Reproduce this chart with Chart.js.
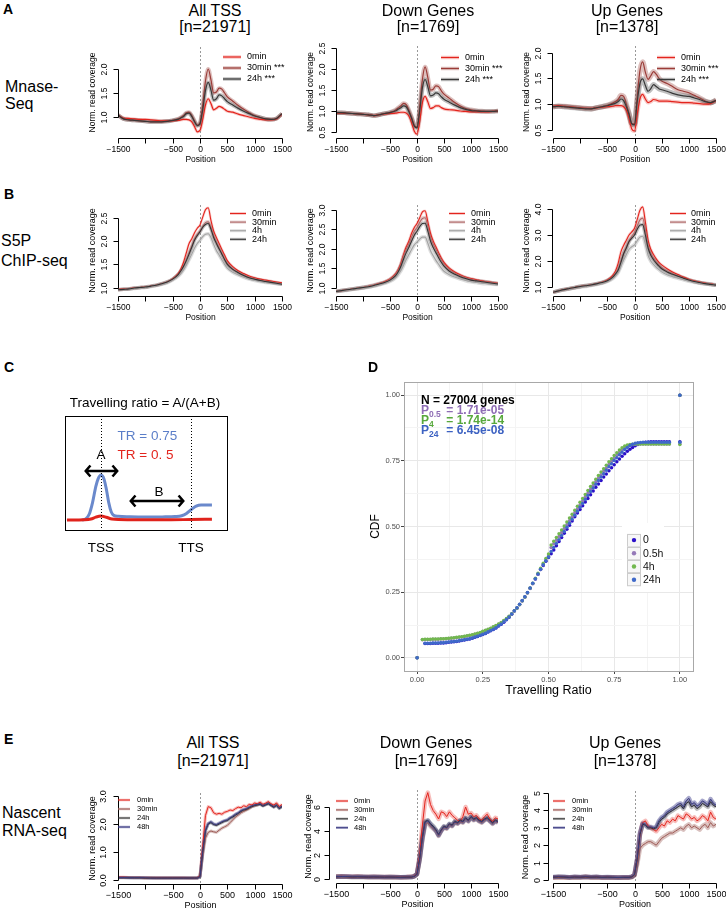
<!DOCTYPE html>
<html><head><meta charset="utf-8">
<script src="https://cdn.jsdelivr.net/npm/chart.js@4.4.1/dist/chart.umd.min.js"></script>
<style>
html,body{margin:0;padding:0;background:#fff;}
#fig{position:relative;width:726px;height:911px;overflow:hidden;font-family:"Liberation Sans",Arial,Helvetica,sans-serif;color:#000;}
.t{position:absolute;white-space:nowrap;line-height:1;}
canvas{position:absolute;}
sub{font-size:8.5px;vertical-align:-3px;line-height:0;}
</style></head><body><div id="fig"></div>
<script>
// ================= DATA =================
const posAB = [-1500,-1400,-1300,-1200,-1100,-1000,-900,-800,-700,-600,-500,-400,-350,-300,-250,-200,-150,-100,-50,0,50,100,150,200,250,300,350,400,450,500,600,700,800,900,1000,1100,1200,1300,1400,1500];
const posE = [-1500,-1400,-1300,-1200,-1100,-1000,-900,-800,-700,-600,-500,-400,-300,-200,-100,-50,0,50,100,150,200,250,300,350,400,450,500,550,600,650,700,750,800,850,900,950,1000,1050,1100,1150,1200,1250,1300,1350,1400,1450,1500];
const xTickVals = [-1500,-1000,-500,0,500,1000,1500];
const xTickLabels = ['\u22121500','','\u2212500','0','500','1000','1500'];
const legendA = ['0min','30min ***','24h ***'];
const legendB = ['0min','30min','4h','24h'];
const legendE = ['0min','30min','24h','48h'];

// A: MNase-seq
const a1_0min  = [1.04,0.98,0.97,0.96,0.95,0.95,0.94,0.93,0.92,0.92,0.92,0.93,0.94,0.95,0.95,0.94,0.90,0.80,0.69,0.72,0.95,1.25,1.38,1.28,1.15,1.18,1.22,1.20,1.16,1.12,1.10,1.06,1.03,1.00,0.97,0.95,0.94,0.94,0.96,1.06];
const a1_30min = [1.04,0.96,0.94,0.93,0.92,0.91,0.90,0.90,0.90,0.91,0.93,0.96,0.99,1.03,1.09,1.10,1.03,0.92,0.83,0.88,1.25,1.75,2.00,1.78,1.50,1.52,1.60,1.58,1.50,1.42,1.33,1.24,1.16,1.09,1.03,0.99,0.96,0.95,0.97,1.07];
const a1_24h   = [1.04,0.96,0.94,0.93,0.92,0.91,0.90,0.90,0.90,0.91,0.93,0.95,0.98,1.01,1.07,1.08,1.01,0.90,0.82,0.86,1.15,1.55,1.72,1.56,1.35,1.38,1.46,1.44,1.38,1.32,1.25,1.18,1.12,1.07,1.02,0.99,0.96,0.95,0.97,1.07];
const a2_0min  = [0.95,0.95,0.94,0.94,0.93,0.92,0.91,0.89,0.91,0.93,0.94,0.95,0.96,0.97,0.97,0.95,0.88,0.72,0.52,0.45,0.75,1.20,1.35,1.22,1.06,1.08,1.12,1.12,1.08,1.05,1.03,1.02,1.00,0.99,0.98,0.98,0.98,0.98,0.99,1.00];
const a2_30min = [0.96,0.96,0.95,0.94,0.93,0.92,0.91,0.89,0.91,0.94,0.97,1.02,1.07,1.12,1.18,1.15,1.02,0.85,0.66,0.62,1.10,1.75,2.05,1.80,1.50,1.52,1.60,1.58,1.48,1.40,1.30,1.20,1.12,1.06,1.03,1.01,1.00,0.99,0.99,1.00];
const a2_24h   = [0.96,0.96,0.95,0.94,0.93,0.92,0.91,0.89,0.91,0.94,0.96,1.00,1.04,1.08,1.12,1.10,0.98,0.82,0.64,0.60,1.00,1.55,1.75,1.58,1.36,1.38,1.43,1.41,1.34,1.28,1.21,1.14,1.08,1.04,1.01,1.00,0.99,0.99,0.99,1.00];
const a3_0min  = [0.96,0.97,0.96,0.95,0.94,0.93,0.92,0.92,0.93,0.94,0.95,0.96,0.97,0.97,0.97,0.95,0.88,0.72,0.52,0.48,0.80,1.10,1.19,1.10,1.03,1.05,1.09,1.08,1.06,1.06,1.06,1.05,1.04,1.03,1.03,1.02,1.01,1.00,1.01,1.07];
const a3_30min = [0.95,0.96,0.96,0.95,0.94,0.93,0.92,0.91,0.93,0.95,0.98,1.02,1.05,1.09,1.17,1.15,1.00,0.82,0.62,0.62,1.15,1.65,1.82,1.62,1.48,1.55,1.63,1.58,1.50,1.45,1.40,1.34,1.28,1.25,1.22,1.17,1.12,1.06,1.03,1.08];
const a3_24h   = [0.95,0.96,0.95,0.94,0.93,0.92,0.91,0.91,0.93,0.95,0.97,1.00,1.02,1.05,1.10,1.07,0.95,0.80,0.62,0.60,1.05,1.40,1.49,1.36,1.25,1.30,1.38,1.34,1.30,1.28,1.25,1.21,1.18,1.16,1.15,1.12,1.09,1.05,1.03,1.07];

// B: S5P ChIP-seq
const b1_0min  = [0.96,0.97,0.98,0.99,1.00,1.01,1.03,1.05,1.08,1.12,1.19,1.30,1.40,1.55,1.75,1.95,2.05,2.18,2.28,2.35,2.52,2.68,2.72,2.45,2.22,2.08,1.95,1.82,1.70,1.58,1.45,1.36,1.30,1.25,1.21,1.18,1.16,1.14,1.12,1.10];
const b1_30min = [0.95,0.96,0.97,0.99,1.00,1.01,1.03,1.05,1.08,1.12,1.18,1.28,1.36,1.47,1.60,1.75,1.90,2.05,2.15,2.22,2.32,2.40,2.42,2.30,2.12,1.98,1.86,1.74,1.62,1.52,1.40,1.33,1.27,1.22,1.19,1.16,1.14,1.12,1.10,1.08];
const b1_4h    = [0.95,0.96,0.97,0.98,0.99,1.00,1.02,1.04,1.07,1.10,1.16,1.24,1.30,1.38,1.48,1.60,1.72,1.85,1.95,2.02,2.10,2.15,2.16,2.08,1.93,1.80,1.70,1.60,1.50,1.42,1.33,1.27,1.22,1.18,1.15,1.13,1.11,1.10,1.08,1.07];
const b1_24h   = [0.95,0.96,0.97,0.99,1.00,1.01,1.03,1.05,1.08,1.12,1.18,1.28,1.36,1.46,1.58,1.72,1.87,2.02,2.12,2.20,2.30,2.36,2.38,2.26,2.08,1.95,1.83,1.72,1.60,1.50,1.39,1.32,1.26,1.21,1.18,1.15,1.13,1.11,1.09,1.07];
const b2_0min  = [0.90,0.92,0.94,0.96,0.98,1.00,1.03,1.06,1.10,1.15,1.22,1.35,1.46,1.62,1.85,2.05,2.20,2.40,2.55,2.65,2.80,2.95,2.98,2.70,2.40,2.20,2.05,1.90,1.76,1.65,1.50,1.40,1.33,1.27,1.23,1.20,1.17,1.15,1.13,1.11];
const b2_30min = [0.90,0.92,0.94,0.96,0.98,1.00,1.03,1.06,1.10,1.14,1.21,1.33,1.43,1.58,1.80,1.98,2.12,2.30,2.45,2.55,2.68,2.78,2.80,2.58,2.30,2.12,1.98,1.84,1.71,1.60,1.46,1.37,1.30,1.25,1.21,1.18,1.16,1.14,1.12,1.10];
const b2_4h    = [0.90,0.92,0.93,0.95,0.97,0.99,1.01,1.04,1.07,1.11,1.16,1.25,1.33,1.43,1.57,1.72,1.85,1.98,2.10,2.17,2.25,2.30,2.30,2.15,1.95,1.82,1.70,1.60,1.50,1.42,1.33,1.27,1.22,1.18,1.15,1.13,1.11,1.10,1.09,1.08];
const b2_24h   = [0.90,0.92,0.94,0.96,0.98,1.00,1.02,1.05,1.09,1.13,1.19,1.30,1.40,1.54,1.73,1.90,2.04,2.20,2.35,2.45,2.57,2.65,2.66,2.46,2.20,2.03,1.90,1.77,1.65,1.55,1.42,1.34,1.28,1.23,1.19,1.17,1.15,1.13,1.11,1.09];
const b3_0min  = [0.80,0.85,0.90,0.94,0.98,1.02,1.05,1.08,1.12,1.18,1.27,1.45,1.62,1.92,2.35,2.60,2.80,3.00,3.12,3.26,3.60,3.95,4.08,3.50,2.80,2.45,2.25,2.08,1.95,1.85,1.70,1.58,1.48,1.38,1.30,1.24,1.19,1.15,1.12,1.08];
const b3_30min = [0.80,0.85,0.90,0.94,0.98,1.02,1.05,1.08,1.12,1.17,1.25,1.40,1.53,1.70,2.00,2.30,2.55,2.78,2.95,3.10,3.35,3.58,3.65,3.20,2.60,2.30,2.12,1.97,1.85,1.75,1.62,1.52,1.43,1.35,1.28,1.22,1.17,1.14,1.11,1.08];
const b3_4h    = [0.80,0.85,0.89,0.93,0.97,1.00,1.03,1.06,1.10,1.15,1.22,1.33,1.43,1.57,1.80,2.04,2.25,2.45,2.55,2.62,2.78,2.92,2.95,2.65,2.22,2.00,1.87,1.76,1.67,1.58,1.47,1.40,1.34,1.28,1.23,1.19,1.15,1.12,1.10,1.07];
const b3_24h   = [0.80,0.85,0.90,0.94,0.98,1.02,1.05,1.08,1.12,1.17,1.24,1.38,1.50,1.65,1.95,2.28,2.50,2.75,2.88,3.00,3.22,3.38,3.40,3.00,2.50,2.22,2.05,1.92,1.80,1.70,1.58,1.49,1.41,1.34,1.27,1.21,1.17,1.13,1.10,1.07];

// E: Nascent RNA-seq
const e1_0min  = [0.10,0.10,0.09,0.09,0.09,0.08,0.08,0.08,0.08,0.08,0.08,0.08,0.08,0.07,0.07,0.08,0.15,1.20,2.30,2.62,2.58,2.40,2.35,2.38,2.35,2.42,2.45,2.50,2.48,2.55,2.60,2.58,2.65,2.62,2.70,2.68,2.75,2.72,2.78,2.70,2.74,2.80,2.72,2.68,2.75,2.62,2.70];
const e1_30min = [0.09,0.09,0.09,0.08,0.08,0.08,0.08,0.07,0.07,0.07,0.07,0.07,0.07,0.07,0.07,0.07,0.12,0.90,1.50,1.70,1.75,1.72,1.70,1.78,1.85,1.90,1.95,2.05,2.15,2.25,2.32,2.40,2.45,2.50,2.55,2.62,2.65,2.68,2.72,2.66,2.70,2.75,2.68,2.62,2.70,2.58,2.65];
const e1_24h   = [0.08,0.08,0.08,0.08,0.08,0.07,0.07,0.07,0.07,0.07,0.07,0.07,0.07,0.07,0.07,0.07,0.12,1.00,1.75,2.00,2.05,1.98,1.95,2.00,2.05,2.10,2.12,2.20,2.25,2.32,2.38,2.45,2.50,2.52,2.58,2.62,2.66,2.68,2.70,2.64,2.68,2.72,2.66,2.60,2.66,2.55,2.62];
const e1_48h   = [0.09,0.09,0.08,0.08,0.08,0.08,0.07,0.07,0.07,0.07,0.07,0.07,0.07,0.07,0.07,0.07,0.12,1.02,1.78,2.02,2.08,2.00,1.98,2.03,2.08,2.12,2.15,2.22,2.28,2.35,2.40,2.48,2.52,2.55,2.60,2.65,2.68,2.70,2.72,2.66,2.70,2.74,2.68,2.62,2.68,2.57,2.64];
const e2_0min  = [0.20,0.22,0.20,0.18,0.20,0.18,0.17,0.18,0.17,0.16,0.17,0.16,0.15,0.16,0.18,0.25,0.45,2.00,4.50,6.50,7.20,6.20,5.70,5.40,5.00,5.60,5.50,5.20,5.60,5.30,5.10,4.90,4.80,5.20,6.00,5.40,5.50,5.20,5.30,5.00,4.90,5.20,5.40,5.00,4.80,5.10,5.00];
const e2_30min = [0.18,0.20,0.19,0.17,0.18,0.17,0.16,0.17,0.16,0.15,0.16,0.15,0.14,0.15,0.16,0.22,0.40,1.60,3.30,4.50,4.70,4.40,4.20,4.00,3.60,4.00,4.30,4.20,4.50,4.40,4.70,4.60,4.80,4.70,5.00,4.80,5.10,4.90,5.00,4.80,4.70,4.90,5.00,4.80,4.60,4.80,4.70];
const e2_24h   = [0.18,0.20,0.19,0.17,0.18,0.17,0.16,0.17,0.16,0.15,0.16,0.15,0.14,0.15,0.16,0.22,0.40,1.70,3.50,4.80,4.90,4.60,4.40,4.10,3.70,4.10,4.40,4.30,4.60,4.50,4.80,4.70,4.90,4.80,5.10,4.90,5.20,5.00,5.10,4.90,4.80,5.00,5.10,4.90,4.70,4.90,4.80];
const e2_48h   = [0.19,0.21,0.20,0.18,0.19,0.18,0.17,0.18,0.17,0.16,0.17,0.16,0.15,0.16,0.17,0.23,0.42,1.70,3.40,4.70,4.85,4.55,4.30,4.05,3.65,4.05,4.35,4.25,4.55,4.45,4.75,4.65,4.85,4.75,5.05,4.85,5.15,4.95,5.05,4.85,4.75,4.95,5.05,4.85,4.65,4.85,4.75];
const e3_0min  = [0.15,0.17,0.16,0.15,0.17,0.16,0.18,0.16,0.17,0.15,0.16,0.15,0.14,0.15,0.15,0.18,0.30,1.20,2.60,3.30,3.40,3.10,3.00,2.90,2.80,3.00,3.20,3.10,3.40,3.30,3.50,3.40,3.70,3.60,3.50,3.80,3.70,3.50,3.60,3.40,3.50,3.70,3.60,3.40,3.90,3.60,3.50];
const e3_30min = [0.15,0.16,0.15,0.14,0.16,0.15,0.17,0.15,0.16,0.14,0.15,0.14,0.13,0.14,0.14,0.16,0.25,0.90,1.80,2.00,2.10,2.20,2.20,2.10,2.00,2.20,2.40,2.50,2.60,2.70,2.70,2.80,2.90,3.00,2.90,3.10,3.20,3.00,3.10,3.00,2.90,3.10,3.20,3.00,3.30,3.10,3.20];
const e3_24h   = [0.16,0.18,0.17,0.15,0.17,0.16,0.18,0.16,0.17,0.15,0.16,0.15,0.14,0.15,0.15,0.18,0.30,1.20,2.60,3.20,3.15,3.00,3.00,2.95,3.00,3.30,3.50,3.60,3.80,3.90,4.00,4.10,4.20,4.30,4.10,4.40,4.50,4.20,4.30,4.10,4.20,4.40,4.30,4.20,4.50,4.30,4.20];
const e3_48h   = [0.17,0.19,0.18,0.16,0.18,0.17,0.19,0.17,0.18,0.16,0.17,0.16,0.15,0.16,0.16,0.19,0.32,1.25,2.70,3.25,3.20,3.05,3.05,3.00,3.05,3.40,3.60,3.70,3.90,4.00,4.10,4.20,4.35,4.40,4.20,4.55,4.70,4.35,4.45,4.25,4.35,4.55,4.45,4.30,4.65,4.40,4.30];

// y tick values / labels
const a1YTicks = [1.0,1.5,2.0], a1YLabels = ['1.0','1.5','2.0'];
const a2YTicks = [0.5,1.0,1.5,2.0,2.5], a2YLabels = ['0.5','1.0','1.5','2.0','2.5'];
const a3YTicks = [0.5,1.0,1.5,2.0], a3YLabels = ['0.5','1.0','1.5','2.0'];
const b1YTicks = [1.0,1.5,2.0,2.5], b1YLabels = ['1.0','1.5','2.0','2.5'];
const b2YTicks = [1.0,1.5,2.0,2.5,3.0], b2YLabels = ['1.0','1.5','2.0','2.5','3.0'];
const b3YTicks = [1,2,3,4], b3YLabels = ['1.0','2.0','3.0','4.0'];
const e1YTicks = [0,1,2,3], e1YLabels = ['0.0','1.0','2.0','3.0'];
const e2YTicks = [0,2,4,6], e2YLabels = ['0','2','4','6'];
const e3YTicks = [0,1,2,3,4,5], e3YLabels = ['0','1','2','3','4','5'];

// D: CDF of travelling ratio
const dX = [0.02,0.03,0.04,0.05,0.06,0.07,0.08,0.09,0.10,0.11,0.12,0.13,0.14,0.15,0.16,0.17,0.18,0.19,0.20,0.21,0.22,0.23,0.24,0.25,0.26,0.27,0.28,0.29,0.30,0.31,0.32,0.33,0.34,0.35,0.36,0.37,0.38,0.39,0.40,0.41,0.42,0.43,0.44,0.45,0.46,0.47,0.48,0.49,0.50,0.51,0.52,0.53,0.54,0.55,0.56,0.57,0.58,0.59,0.60,0.61,0.62,0.63,0.64,0.65,0.66,0.67,0.68,0.69,0.70,0.71,0.72,0.73,0.74,0.75,0.76,0.77,0.78,0.79,0.80,0.81,0.82,0.83,0.84,0.85,0.86,0.87,0.88,0.89,0.90,0.91,0.92,0.93,0.94,0.95,0.96];
const d0 = [null,0.055,0.055,0.055,0.056,0.056,0.056,0.057,
0.057,0.058,0.059,0.060,0.061,0.062,0.064,0.066,0.068,0.070,
0.072,0.075,0.078,0.081,0.085,0.089,0.093,0.098,0.103,0.108,
0.114,0.121,0.128,0.136,0.145,0.155,0.166,0.178,0.190,0.203,
0.217,0.232,0.248,0.265,0.283,0.300,0.318,0.336,0.352,0.368,
0.382,0.396,0.411,0.427,0.443,0.458,0.474,0.490,0.505,0.521,
0.537,0.551,0.565,0.579,0.593,0.607,0.621,0.635,0.649,0.662,
0.675,0.688,0.700,0.712,0.724,0.735,0.746,0.757,0.767,0.777,
0.786,0.794,0.801,0.807,0.812,0.816,0.819,0.821,0.822,0.823,
0.823,0.823,0.823,0.823,0.823,0.823,0.823];
const d05 = [0.069,0.070,0.070,0.070,0.071,0.071,0.071,0.072,
0.072,0.073,0.074,0.075,0.076,0.077,0.078,0.079,0.081,0.083,
0.085,0.087,0.090,0.093,0.096,0.100,0.104,0.108,0.112,0.117,
0.122,0.128,0.134,0.141,0.149,0.157,0.167,0.178,0.189,0.202,
0.216,0.231,0.247,0.264,0.282,0.300,0.318,0.336,0.354,0.371,
0.387,0.420,0.434,0.448,0.462,0.477,0.492,0.507,0.522,0.537,
0.552,0.567,0.582,0.597,0.612,0.627,0.642,0.656,0.670,0.684,
0.697,0.710,0.723,0.736,0.748,0.760,0.771,0.782,0.792,0.800,
0.806,0.810,0.812,0.813,0.814,0.814,0.814,0.814,0.814,0.814,
0.814,0.814,0.814,0.814,0.814,0.814,0.814];
const d4 = [0.070,0.071,0.071,0.071,0.072,0.072,0.072,0.073,
0.073,0.074,0.075,0.076,0.077,0.078,0.079,0.080,0.082,0.084,
0.086,0.088,0.091,0.094,0.097,0.101,0.105,0.109,0.113,0.118,
0.123,0.129,0.135,0.142,0.150,0.158,0.168,0.179,0.190,0.203,
0.217,0.232,0.248,0.266,0.284,0.303,0.322,0.341,0.360,0.378,
0.395,0.430,0.444,0.458,0.472,0.487,0.502,0.517,0.532,0.547,
0.562,0.577,0.592,0.607,0.622,0.637,0.652,0.666,0.680,0.694,
0.707,0.720,0.733,0.746,0.758,0.770,0.781,0.791,0.800,0.806,
0.810,0.812,0.813,0.814,0.814,0.814,0.814,0.814,0.814,0.814,
0.814,0.814,0.814,0.814,0.814,0.814,0.814];
const d24 = [null,0.056,0.056,0.056,0.057,0.057,0.057,0.058,
0.058,0.059,0.060,0.061,0.062,0.063,0.065,0.067,0.069,0.071,
0.073,0.076,0.079,0.082,0.086,0.090,0.094,0.099,0.104,0.109,
0.115,0.122,0.129,0.137,0.146,0.156,0.167,0.179,0.191,0.204,
0.218,0.233,0.249,0.266,0.284,0.301,0.319,0.337,0.354,0.370,
0.384,0.405,0.420,0.435,0.450,0.466,0.481,0.497,0.512,0.528,
0.543,0.558,0.573,0.588,0.603,0.618,0.633,0.647,0.661,0.675,
0.688,0.701,0.714,0.727,0.739,0.751,0.762,0.773,0.783,0.793,
0.801,0.808,0.813,0.817,0.819,0.820,0.821,0.821,0.821,0.821,
0.821,0.821,0.821,0.821,0.821,0.821,0.821];
const dTailX = [0, 1, 1];
const d0Tail = [0, 0.823, 1];
const d05Tail = [0, 0.814, 1];
const d4Tail = [0, 0.812, 1];
const d24Tail = [0, 0.821, 1];
const dTicks = [0,0.125,0.25,0.375,0.5,0.625,0.75,0.875,1];
const dTickLabels = ['0.00','','0.25','','0.50','','0.75','','1.00'];
const dLegend = ['0','0.5h','4h','24h'];

// C: schematic profiles
const cBlueX = [10.5,13,15,17,19,20.5,22.2,24,25.5,27,28.5,30,33,40,50,60,68,72,75,78,81,84,90.7];
const cBlueY = [8.8,10,14,24,38,45,48.2,45,36,24,16,13,12,11.6,11.4,11.5,11.8,12.5,14.5,18,21,22,22];
const cRedX = [1.2,12,16,19,22.2,25.5,29,40,60,77.8,90.7];
const cRedY = [8.8,9.0,9.6,11.3,12.3,11.2,9.6,9.0,8.9,9.2,9.5];
const cMarks = [22.2, 77.8];

// ================= DRAWING =================
const FONT = '"Liberation Sans", Arial, Helvetica, sans-serif';
Chart.defaults.font.family = FONT;
const fig = document.getElementById('fig');

function txt(html, x, base, size, o) {
  o = o || {};
  const d = document.createElement('div');
  d.className = 't';
  d.innerHTML = html;
  d.style.fontSize = size + 'px';
  d.style.top = (base - 0.8465 * size) + 'px';
  d.style.left = x + 'px';
  if (o.center) d.style.transform = 'translateX(-50%)';
  if (o.bold) d.style.fontWeight = 'bold';
  if (o.color) d.style.color = o.color;
  fig.appendChild(d);
}
function mkCanvas(l, t, w, h) {
  const c = document.createElement('canvas');
  c.width = w; c.height = h;
  c.style.left = l + 'px'; c.style.top = t + 'px';
  c.style.width = w + 'px'; c.style.height = h + 'px';
  fig.appendChild(c);
  return c;
}
function rot(ctx, s, x, y) {
  ctx.save(); ctx.translate(x, y); ctx.rotate(-Math.PI / 2);
  ctx.textAlign = 'center'; ctx.textBaseline = 'middle';
  ctx.fillText(s, 0, 0); ctx.restore();
}

const stA = [
  {color:'#e3241d', band:'rgba(227,36,29,0.25)', lw:1.2, bw:3},
  {color:'#9b3c38', band:'rgba(170,95,90,0.4)', lw:1.2, bw:4},
  {color:'#383838', band:'rgba(95,95,95,0.4)', lw:1.2, bw:4}
];
const stB = [
  {color:'#e3241d', band:'rgba(227,36,29,0.2)', lw:1.1, bw:2.5},
  {color:'#b06a6a', band:'rgba(190,140,140,0.4)', lw:1.1, bw:3.5},
  {color:'#a3a3a3', band:'rgba(180,180,180,0.45)', lw:1.1, bw:3.5},
  {color:'#333333', band:'rgba(95,95,95,0.35)', lw:1.1, bw:3.5}
];
const stE = [
  {color:'#e3241d', band:'rgba(227,36,29,0.3)', lw:1, bw:5},
  {color:'#9e5a55', band:'rgba(160,100,95,0.4)', lw:1, bw:5},
  {color:'#2e2e2e', band:'rgba(70,70,70,0.35)', lw:1, bw:5},
  {color:'#3b3b80', band:'rgba(60,60,140,0.45)', lw:1, bw:5}
];

function rAxis(cfg) {
  return {
    id: 'rAxis',
    beforeDatasetsDraw(chart) {
      const {ctx, chartArea: ca, scales: {x}} = chart;
      const px = Math.round(x.getPixelForValue(0)) + 0.5;
      ctx.save();
      ctx.strokeStyle = '#999'; ctx.lineWidth = 1; ctx.setLineDash([2, 2]);
      ctx.beginPath(); ctx.moveTo(px, ca.top); ctx.lineTo(px, ca.bottom); ctx.stroke();
      ctx.restore();
    },
    afterDraw(chart) {
      const {ctx, chartArea: ca, scales: {x, y}} = chart;
      ctx.save();
      ctx.strokeStyle = '#000'; ctx.fillStyle = '#000'; ctx.lineWidth = 1;
      const xb = Math.round(ca.bottom) + 0.5;
      const xs = xTickVals.map(v => Math.round(x.getPixelForValue(v)) + 0.5);
      const yl = Math.round(ca.left - cfg.yOff) + 0.5;
      const ys = cfg.yTicks.map(v => Math.round(y.getPixelForValue(v)) + 0.5);
      ctx.beginPath();
      ctx.moveTo(xs[0], xb); ctx.lineTo(xs[xs.length - 1], xb);
      xs.forEach(p => { ctx.moveTo(p, xb); ctx.lineTo(p, xb + 5); });
      ctx.moveTo(yl, ys[0]); ctx.lineTo(yl, ys[ys.length - 1]);
      ys.forEach(p => { ctx.moveTo(yl, p); ctx.lineTo(yl - 5, p); });
      ctx.stroke();
      ctx.font = cfg.font + 'px ' + FONT;
      ctx.textAlign = 'center'; ctx.textBaseline = 'middle';
      xTickLabels.forEach((s, i) => { if (s) ctx.fillText(s, xs[i], xb + 11); });
      ctx.fillText('Position', (xs[0] + xs[xs.length - 1]) / 2, xb + 21.5);
      cfg.yLabels.forEach((s, i) => rot(ctx, s, yl - cfg.yLabGap, ys[i]));
      ctx.font = cfg.titleFont + 'px ' + FONT;
      rot(ctx, 'Norm. read coverage', yl - cfg.yTitleGap, (ca.top + ca.bottom) / 2);
      // legend
      const L = cfg.legend, ox = chart.canvas.offsetLeft, oy = chart.canvas.offsetTop;
      ctx.font = L.font + 'px ' + FONT; ctx.textAlign = 'left'; ctx.textBaseline = 'middle';
      L.labels.forEach((lab, i) => {
        const st = L.styles[i];
        const yy = L.y0 + i * L.dy - oy, x0 = L.x - ox;
        ctx.lineCap = 'butt';
        ctx.strokeStyle = st.band; ctx.lineWidth = L.bw;
        ctx.beginPath(); ctx.moveTo(x0, yy); ctx.lineTo(x0 + L.len, yy); ctx.stroke();
        ctx.strokeStyle = st.color; ctx.lineWidth = st.lw;
        ctx.beginPath(); ctx.moveTo(x0, yy); ctx.lineTo(x0 + L.len, yy); ctx.stroke();
        ctx.fillStyle = '#000';
        ctx.fillText(lab, x0 + L.len + L.gap, yy);
      });
      ctx.restore();
    }
  };
}

function rChart(rect, g, pos, seriesVals, styles, cfg, smooth, bwScale) {
  const c = mkCanvas(rect.l, rect.t, rect.w, rect.h);
  const per = (g.yb[0] - g.ya[0]) / (g.ya[1] - g.yb[1]);
  const ymin = g.ya[0] - (g.bottom - g.ya[1]) * per;
  const ymax = g.ya[0] + (g.ya[1] - g.top) * per;
  const n = seriesVals.length;
  const datasets = [];
  seriesVals.forEach((vals, i) => {
    const st = styles[i];
    const pts = pos.map((p, k) => ({x: p, y: vals[k]}));
    const common = {data: pts, pointRadius: 0, fill: false, borderJoinStyle: 'round',
      cubicInterpolationMode: smooth ? 'monotone' : 'default', tension: 0};
    datasets.push(Object.assign({}, common, {borderColor: st.band, borderWidth: st.bw * bwScale, order: 20 + n - i}));
    datasets.push(Object.assign({}, common, {borderColor: st.color, borderWidth: st.lw, order: n - i}));
  });
  new Chart(c, {
    type: 'line',
    data: {datasets},
    options: {
      responsive: false, animation: false, devicePixelRatio: 1, events: [],
      layout: {padding: {left: g.x0 - rect.l, right: rect.l + rect.w - g.x1, top: g.top - rect.t, bottom: rect.t + rect.h - g.bottom}},
      scales: {
        x: {type: 'linear', display: false, min: -1500, max: 1500},
        y: {type: 'linear', display: false, min: ymin, max: ymax}
      },
      plugins: {legend: {display: false}, tooltip: {enabled: false}}
    },
    plugins: [rAxis(cfg)]
  });
}

const colA = {l: 70, w: 225}, colB = {l: 290, w: 220}, colC = {l: 505, w: 221};
const rowA = {t: 40, h: 130}, rowB = {t: 195, h: 130}, rowE = {t: 780, h: 131};
const R = (col, row) => ({l: col.l, w: col.w, t: row.t, h: row.h});

// ---- Row A ----
rChart(R(colA, rowA), {x0:118, x1:282, bottom:138, top:47, ya:[1.0,117], yb:[2.0,69]}, posAB,
  [a1_0min, a1_30min, a1_24h], stA,
  {yTicks:a1YTicks, yLabels:a1YLabels, yOff:0, font:8.5, titleFont:8.5, yLabGap:14, yTitleGap:25.5,
   legend:{x:223, y0:57, dy:11, len:18, gap:6, font:9, bw:3.5, labels:legendA, styles:stA}}, true, 1);
rChart(R(colB, rowA), {x0:336, x1:498, bottom:138, top:46, ya:[0.5,132], yb:[2.5,48]}, posAB,
  [a2_0min, a2_30min, a2_24h], stA,
  {yTicks:a2YTicks, yLabels:a2YLabels, yOff:0, font:8.5, titleFont:8.5, yLabGap:14, yTitleGap:25.5,
   legend:{x:441, y0:57.5, dy:11, len:18, gap:6, font:9, bw:3.5, labels:legendA, styles:stA}}, true, 1.1);
rChart(R(colC, rowA), {x0:553, x1:716, bottom:138, top:46, ya:[0.5,130], yb:[2.0,52.5]}, posAB,
  [a3_0min, a3_30min, a3_24h], stA,
  {yTicks:a3YTicks, yLabels:a3YLabels, yOff:1, font:8.5, titleFont:8.5, yLabGap:14, yTitleGap:25.5,
   legend:{x:657, y0:57.5, dy:11, len:18, gap:6, font:9, bw:3.5, labels:legendA, styles:stA}}, true, 1.3);

// ---- Row B ----
rChart(R(colA, rowB), {x0:118, x1:282, bottom:296, top:205, ya:[1.0,287.5], yb:[2.5,218]}, posAB,
  [b1_0min, b1_30min, b1_4h, b1_24h], stB,
  {yTicks:b1YTicks, yLabels:b1YLabels, yOff:0, font:8.5, titleFont:9, yLabGap:14, yTitleGap:25.5,
   legend:{x:230, y0:213.5, dy:8.6, len:16, gap:6, font:9, bw:3, labels:legendB, styles:stB}}, true, 1);
rChart(R(colB, rowB), {x0:336, x1:498, bottom:296, top:205, ya:[1.0,287.5], yb:[3.0,210]}, posAB,
  [b2_0min, b2_30min, b2_4h, b2_24h], stB,
  {yTicks:b2YTicks, yLabels:b2YLabels, yOff:0, font:8.5, titleFont:9, yLabGap:14, yTitleGap:25.5,
   legend:{x:449, y0:213.5, dy:8.6, len:16, gap:6, font:9, bw:3, labels:legendB, styles:stB}}, true, 1.1);
rChart(R(colC, rowB), {x0:553, x1:716, bottom:296, top:205, ya:[1.0,287], yb:[4.0,209]}, posAB,
  [b3_0min, b3_30min, b3_4h, b3_24h], stB,
  {yTicks:b3YTicks, yLabels:b3YLabels, yOff:1, font:8.5, titleFont:9, yLabGap:14, yTitleGap:25.5,
   legend:{x:670, y0:213.5, dy:8.6, len:16, gap:5, font:9, bw:3, labels:legendB, styles:stB}}, true, 1.1);

// ---- Row E ----
rChart(R(colA, rowE), {x0:118, x1:282, bottom:884, top:793, ya:[0,880], yb:[3,796]}, posE,
  [e1_0min, e1_30min, e1_24h, e1_48h], stE,
  {yTicks:e1YTicks, yLabels:e1YLabels, yOff:0.5, font:9, titleFont:9, yLabGap:15, yTitleGap:26,
   legend:{x:118, y0:800, dy:9, len:12, gap:7, font:7.5, bw:2.5, labels:legendE, styles:stE}}, false, 0.6);
rChart(R(colB, rowE), {x0:336, x1:498, bottom:883, top:790, ya:[0,879], yb:[6,807]}, posE,
  [e2_0min, e2_30min, e2_24h, e2_48h], stE,
  {yTicks:e2YTicks, yLabels:e2YLabels, yOff:7, font:9, titleFont:9, yLabGap:12, yTitleGap:21,
   legend:{x:336, y0:801, dy:8.9, len:12, gap:6, font:7.5, bw:2.5, labels:legendE, styles:stE}}, false, 0.9);
rChart(R(colC, rowE), {x0:553, x1:716, bottom:883, top:791, ya:[0,880], yb:[5,793]}, posE,
  [e3_0min, e3_30min, e3_24h, e3_48h], stE,
  {yTicks:e3YTicks, yLabels:e3YLabels, yOff:5, font:9, titleFont:9, yLabGap:11, yTitleGap:23,
   legend:{x:553, y0:801, dy:8.9, len:12, gap:7, font:7.5, bw:2.5, labels:legendE, styles:stE}}, false, 0.9);

// ---- Panel C (schematic) ----
(function () {
  const c = mkCanvas(40, 405, 210, 140);
  const plug = {
    id: 'cSchema',
    afterDraw(chart) {
      const {ctx, chartArea: ca, scales: {x, y}} = chart;
      ctx.save();
      ctx.strokeStyle = '#000'; ctx.lineWidth = 1;
      ctx.strokeRect(Math.round(ca.left) + 0.5, Math.round(ca.top) + 0.5, Math.round(ca.right - ca.left), Math.round(ca.bottom - ca.top));
      ctx.setLineDash([1, 2]);
      cMarks.forEach(v => {
        const px = Math.round(x.getPixelForValue(v)) + 0.5;
        ctx.beginPath(); ctx.moveTo(px, ca.top); ctx.lineTo(px, ca.bottom); ctx.stroke();
      });
      ctx.setLineDash([]);
      ctx.lineWidth = 2.5; ctx.lineJoin = 'miter';
      const arrow = (a, b, v) => {
        const x1 = x.getPixelForValue(a), x2 = x.getPixelForValue(b), yy = y.getPixelForValue(v), h = 5.5;
        ctx.beginPath();
        ctx.moveTo(x1, yy); ctx.lineTo(x2, yy);
        ctx.moveTo(x1 + h, yy - h); ctx.lineTo(x1 + 0.8, yy); ctx.lineTo(x1 + h, yy + h);
        ctx.moveTo(x2 - h, yy - h); ctx.lineTo(x2 - 0.8, yy); ctx.lineTo(x2 - h, yy + h);
        ctx.stroke();
      };
      arrow(12.3, 32.7, 51.8);
      arrow(40.1, 73.5, 25.4);
      ctx.restore();
    }
  };
  new Chart(c, {
    type: 'line',
    data: {datasets: [
      {data: cBlueX.map((v, i) => ({x: v, y: cBlueY[i]})), borderColor: '#6a89cc', borderWidth: 3, pointRadius: 0, cubicInterpolationMode: 'monotone', order: 2},
      {data: cRedX.map((v, i) => ({x: v, y: cRedY[i]})), borderColor: '#e0231c', borderWidth: 3, pointRadius: 0, cubicInterpolationMode: 'monotone', order: 1}
    ]},
    options: {
      responsive: false, animation: false, devicePixelRatio: 1, events: [],
      layout: {padding: {left: 25, right: 23, top: 11, bottom: 15}},
      scales: {x: {type: 'linear', display: false, min: 0, max: 100}, y: {type: 'linear', display: false, min: 0, max: 100}},
      plugins: {legend: {display: false}, tooltip: {enabled: false}}
    },
    plugins: [plug]
  });
})();

// ---- Panel D (CDF scatter) ----
(function () {
  const c = mkCanvas(340, 370, 370, 330);
  const dSeries = [
    {label: dLegend[0], y: d0, tail: d0Tail, color: '#2b10c9'},
    {label: dLegend[1], y: d05, tail: d05Tail, color: '#9579b8'},
    {label: dLegend[2], y: d4, tail: d4Tail, color: '#72b84f'},
    {label: dLegend[3], y: d24, tail: d24Tail, color: '#3f69c9'}
  ];
  const datasets = dSeries.map((s, i) => ({
    data: dX.map((v, k) => ({x: v, y: s.y[k]})).filter(p => p.y !== null)
      .concat(dTailX.map((v, k) => ({x: v, y: s.tail[k]}))),
    backgroundColor: s.color, borderWidth: 0, pointRadius: 1.75, order: 4 - i
  }));
  const isMinor = ctx => dTickLabels[ctx.index] === '';
  const axis = () => ({
    type: 'linear', min: -0.05, max: 1.05,
    afterBuildTicks: s => { s.ticks = dTicks.map(v => ({value: v})); },
    ticks: {autoSkip: false, maxRotation: 0, minRotation: 0, padding: 1, color: '#4d4d4d', font: {size: 7.5, family: FONT},
      callback: (v, i) => dTickLabels[i]},
    grid: {color: ctx => isMinor(ctx) ? '#f4f4f4' : '#e8e8e8', tickColor: ctx => isMinor(ctx) ? 'rgba(0,0,0,0)' : '#444',
      tickLength: 3, lineWidth: 1},
    border: {display: false}
  });
  const xs = axis(); xs.afterFit = s => { s.height = 29; };
  xs.title = {display: true, text: 'Travelling Ratio', color: '#000', font: {size: 12.5, family: FONT}, padding: {top: 0, bottom: 2}};
  const ys = axis(); ys.afterFit = s => { s.width = 64; };
  ys.title = {display: true, text: 'CDF', color: '#000', font: {size: 12, family: FONT}, padding: {top: 28, bottom: 0}};
  const plug = {
    id: 'dFrame',
    afterDraw(chart) {
      const {ctx, chartArea: ca} = chart;
      const ox = chart.canvas.offsetLeft, oy = chart.canvas.offsetTop;
      ctx.save();
      ctx.strokeStyle = '#a8a8a8'; ctx.lineWidth = 1;
      ctx.strokeRect(Math.round(ca.left) + 0.5, Math.round(ca.top) + 0.5, Math.round(ca.right - ca.left), Math.round(ca.bottom - ca.top));
      ctx.fillStyle = '#fff';
      ctx.fillRect(622 - ox, 523 - oy, 42, 69);
      ctx.font = '10.5px ' + FONT; ctx.textBaseline = 'middle'; ctx.textAlign = 'left';
      dSeries.forEach((s, i) => {
        const ky = 533.5 + i * 13.2 - oy, kx = 627 - ox;
        ctx.fillStyle = '#f7f7f7'; ctx.fillRect(kx, ky, 14, 13.2);
        ctx.strokeStyle = '#cccccc'; ctx.strokeRect(kx + 0.5, Math.round(ky) + 0.5, 13, 12.2);
        ctx.fillStyle = s.color; ctx.beginPath(); ctx.arc(kx + 7, ky + 6.6, 2.2, 0, Math.PI * 2); ctx.fill();
        ctx.fillStyle = '#111';
        ctx.fillText(s.label, kx + 16, ky + 7);
      });
      ctx.restore();
    }
  };
  new Chart(c, {
    type: 'scatter',
    data: {datasets},
    options: {
      responsive: false, animation: false, devicePixelRatio: 1, events: [],
      layout: {padding: {left: 0, top: 12, right: 17, bottom: 0}},
      scales: {x: xs, y: ys},
      plugins: {legend: {display: false}, tooltip: {enabled: false}}
    },
    plugins: [plug]
  });
})();

// ================= TEXT =================
[['A', 3, 13.5], ['B', 4, 198.5], ['C', 4, 372], ['D', 368, 372], ['E', 4, 743.5]]
  .forEach(p => txt(p[0], p[1], p[2], 14, {bold: true}));
const colCenters = [215, 428, 627];
const titles = ['All TSS', 'Down Genes', 'Up Genes'];
const counts = ['[n=21971]', '[n=1769]', '[n=1378]'];
titles.forEach((t, i) => {
  txt(t, colCenters[i], 16.5, 16, {center: true});
  txt(counts[i], colCenters[i], 32.5, 16, {center: true});
  txt(t, colCenters[i] - 2, 749, 16, {center: true});
  txt(counts[i], colCenters[i] - 2, 766.5, 16, {center: true});
});
txt('Mnase-', 5, 93, 16); txt('Seq', 5, 109.5, 16);
txt('S5P', 1, 247, 16); txt('ChIP-seq', 1, 266.5, 16);
txt('Nascent', 2, 819, 16); txt('RNA-seq', 2, 836.5, 16);

txt('Travelling ratio = A/(A+B)', 145, 407, 13.5, {center: true});
txt('TR = 0.75', 117.5, 440, 13.5, {color: '#5b7ec8'});
txt('TR = 0. 5', 117.5, 459, 13.5, {color: '#e3241d'});
txt('A', 101, 459.5, 13.5, {center: true});
txt('B', 159, 496, 13.5, {center: true});
txt('TSS', 101, 552, 13.5, {center: true});
txt('TTS', 191, 552, 13.5, {center: true});

txt('N = 27004 genes', 421, 404, 12, {bold: true});
txt('<span style="display:inline-block;width:22px">P<sub>0.5</sub></span> = 1.71e-05', 421, 414.5, 12, {bold: true, color: '#8f6db5'});
txt('<span style="display:inline-block;width:22px">P<sub>4</sub></span> = 1.74e-14', 421, 424.5, 12, {bold: true, color: '#58a83c'});
txt('<span style="display:inline-block;width:22px">P<sub>24</sub></span> = 6.45e-08', 421, 434.5, 12, {bold: true, color: '#3d62c2'});
</script>
</body></html>
